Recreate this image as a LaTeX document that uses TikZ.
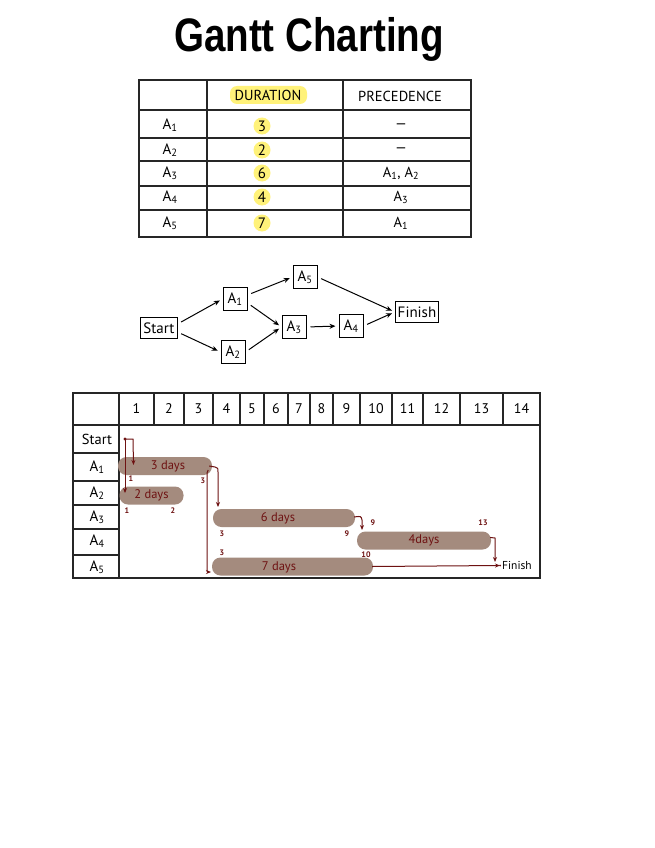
\documentclass[tikz,border=0pt]{standalone}
\usepackage{fontspec}
\setmainfont{PT Sans}
\newfontfamily\titlefont{Liberation Sans}
\usetikzlibrary{arrows.meta}
\definecolor{hl}{HTML}{FFF27A}
\definecolor{barc}{HTML}{A48B7E}
\definecolor{dred}{HTML}{6E1212}
\tikzset{
  tline/.style={line width=1.1pt, draw=black!85},
  cell/.style={font=\fontsize{14.5}{16}\selectfont, inner sep=0pt},
  lcell/.style={font=\fontsize{15}{16}\selectfont, inner sep=0pt},
  hcell/.style={font=\fontsize{14}{16}\selectfont, inner sep=0pt},
  hlnum/.style={circle, fill=hl, minimum size=17pt, inner sep=0pt, font=\fontsize{15}{16}\selectfont},
  netbox/.style={draw, line width=1pt, inner sep=2.5pt, font=\fontsize{15}{16}\selectfont, minimum height=21pt},
  abox/.style={netbox, minimum width=24pt, minimum height=23pt, inner sep=1pt},
  netarrow/.style={-{Stealth[length=6pt,width=5pt]}, line width=1pt, shorten <=4pt, shorten >=3pt},
  bar/.style={fill=barc, rounded corners=8.5pt, inner sep=0pt, minimum height=18pt, text=dred, font=\fontsize{12.5}{13}\selectfont},
  gtext/.style={text=dred, font=\fontsize{12.5}{13}\selectfont, inner sep=0pt},
  small/.style={text=dred, font=\fontsize{8}{9}\selectfont\bfseries, inner sep=0pt},
  garrow/.style={draw=dred, line width=1pt, -{Stealth[length=5pt,width=4pt]}},
}
\newcommand{\Asub}[1]{A\textsubscript{#1}}
\begin{document}
\begin{tikzpicture}[x=1pt,y=-1pt]
\useasboundingbox (0,0) rectangle (655,848);
\fill[white] (0,0) rectangle (655,848);

% Title
\node[inner sep=0pt, anchor=base] (title) at (309,52) {\titlefont\bfseries\fontsize{47}{50}\selectfont\scalebox{0.82}[1]{Gantt Charting}};

% ---------- Table ----------
\draw[tline] (139,80) rectangle (471,237);
\foreach \yy in {110,138,161,186,210} \draw[tline] (139,\yy) -- (471,\yy);
\draw[tline] (207,80) -- (207,237);
\draw[tline] (343,80) -- (343,237);

\fill[hl, rounded corners=7pt] (230,86) rectangle (307,104);
\node[cell] (hdur) at (268,95.5) {DURATION};
\node[cell] (hprec) at (400,96) {PRECEDENCE};

\node[lcell] (r1) at (170,125) {\Asub{1}};
\node[lcell] (r2) at (170,150) {\Asub{2}};
\node[lcell] (r3) at (170,173) {\Asub{3}};
\node[lcell] (r4) at (170,197) {\Asub{4}};
\node[lcell] (r5) at (170,223) {\Asub{5}};

\node[hlnum] (d1) at (262,126) {3};
\node[hlnum] (d2) at (262,150) {2};
\node[hlnum] (d3) at (262,173) {6};
\node[hlnum] (d4) at (262,197) {4};
\node[hlnum] (d5) at (262,223) {7};

\node[cell] (p1) at (401,126) {---};
\node[cell] (p2) at (401,150) {---};
\node[cell] (p3) at (401,173) {\Asub{1}, \Asub{2}};
\node[cell] (p4) at (401,197) {\Asub{3}};
\node[cell] (p5) at (401,223) {\Asub{1}};

% ---------- Network ----------
\node[netbox] (nS) at (159,328) {Start};
\node[abox] (n1) at (235,299) {\Asub{1}};
\node[abox] (n2) at (233,352) {\Asub{2}};
\node[abox] (n5) at (305,277) {\Asub{5}};
\node[abox] (n3) at (294,327) {\Asub{3}};
\node[abox] (n4) at (351,326) {\Asub{4}};
\node[netbox] (nF) at (417,312) {Finish};

\draw[netarrow] (nS.east) ++(0,-4) -- (n1.west);
\draw[netarrow] (nS.east) ++(0,4) -- (n2.west);
\draw[netarrow] (n1.east) ++(0,-4) -- (n5.west);
\draw[netarrow] (n1.east) ++(0,4) -- (n3.west);
\draw[netarrow] (n2.east) -- (n3.west);
\draw[netarrow] (n3.east) -- (n4.west);
\draw[netarrow] (n5.east) -- (nF.west);
\draw[netarrow] (n4.east) -- (nF.west);

% ---------- Gantt ----------
\draw[tline] (73,393) rectangle (540,578);
\draw[tline] (73,425) -- (540,425);
\draw[tline] (119,393) -- (119,578);
\foreach \xx in {154,184,213,240,264,288,310,333,360,392,423,460,503}
  \draw[tline] (\xx,393) -- (\xx,425);
\foreach \yy in {453,481,505,529,555} \draw[tline] (73,\yy) -- (119,\yy);

\foreach \n/\cx in {1/136.5,2/169,3/198.5,4/226.5,5/252,6/276,7/299,8/321.5,9/346.5,10/376,11/407.5,12/441.5,13/481.5,14/521.5}
  \node[hcell] (c\n) at (\cx,409) {\n};

\node[cell] (gS) at (97,439) {Start};
\node[lcell] (g1) at (97,467) {\Asub{1}};
\node[lcell] (g2) at (97,493) {\Asub{2}};
\node[lcell] (g3) at (97,517) {\Asub{3}};
\node[lcell] (g4) at (97,541) {\Asub{4}};
\node[lcell] (g5) at (97,567) {\Asub{5}};

% bars
\node[bar, minimum width=94pt] (b1) at (165,466) {\hspace*{6pt}3 days};
\node[bar, minimum width=64pt] (b2) at (151.5,495.5) {2 days};
\node[bar, minimum width=142pt] (b3) at (284,518) {\hspace*{-12pt}6 days};
\node[bar, minimum width=134pt] (b4) at (424,540.5) {4days};
\node[bar, minimum width=161pt] (b5) at (292.5,566.5) {};
\node[gtext] (t5) at (279,567) {7 days};

% small numbers
\node[small] (m1) at (131,479) {1};
\node[small] (m2) at (203,481) {3};
\node[small] (m3) at (127,511) {1};
\node[small] (m4) at (173,511) {2};
\node[small] (m5) at (222,534) {3};
\node[small] (m6) at (222,553) {3};
\node[small] (m7) at (347,534) {9};
\node[small] (m8) at (373,523) {9};
\node[small] (m9) at (483,523) {13};
\node[small] (m10) at (366,555) {10};

% arrows
\coordinate (s0) at (125,439);
\fill[dred] (s0) circle (1.6pt);
\draw[garrow] (s0) -- (133,439) -- (133.5,465);
\draw[garrow] (s0) -- (125,493);
\draw[garrow] (b1.east) ++(-3,0) coordinate (e1) -- (215,467) .. controls (218,468) .. (218,472) -- (218,507);
\draw[garrow] (e1) ++(-1,4) .. controls (207,472) .. (207,478) -- (207,569) .. controls (207,572) .. (211,572);
\draw[garrow] (b3.east) ++(-1,-1) .. controls (361,516) .. (362,520) -- (362,530);
\draw[garrow] (b4.east) ++(-1,-3) -- (495,538) -- (495,562);
\coordinate (fin) at (500,565.5);
\draw[garrow] (b5.east) ++(-1,0) -- (fin);
\fill[dred] (fin) circle (1pt);
\node[inner sep=0pt, anchor=west, font=\fontsize{11.5}{13}\selectfont] (gfin) at (502,565.5) {Finish};
\end{tikzpicture}
\end{document}
